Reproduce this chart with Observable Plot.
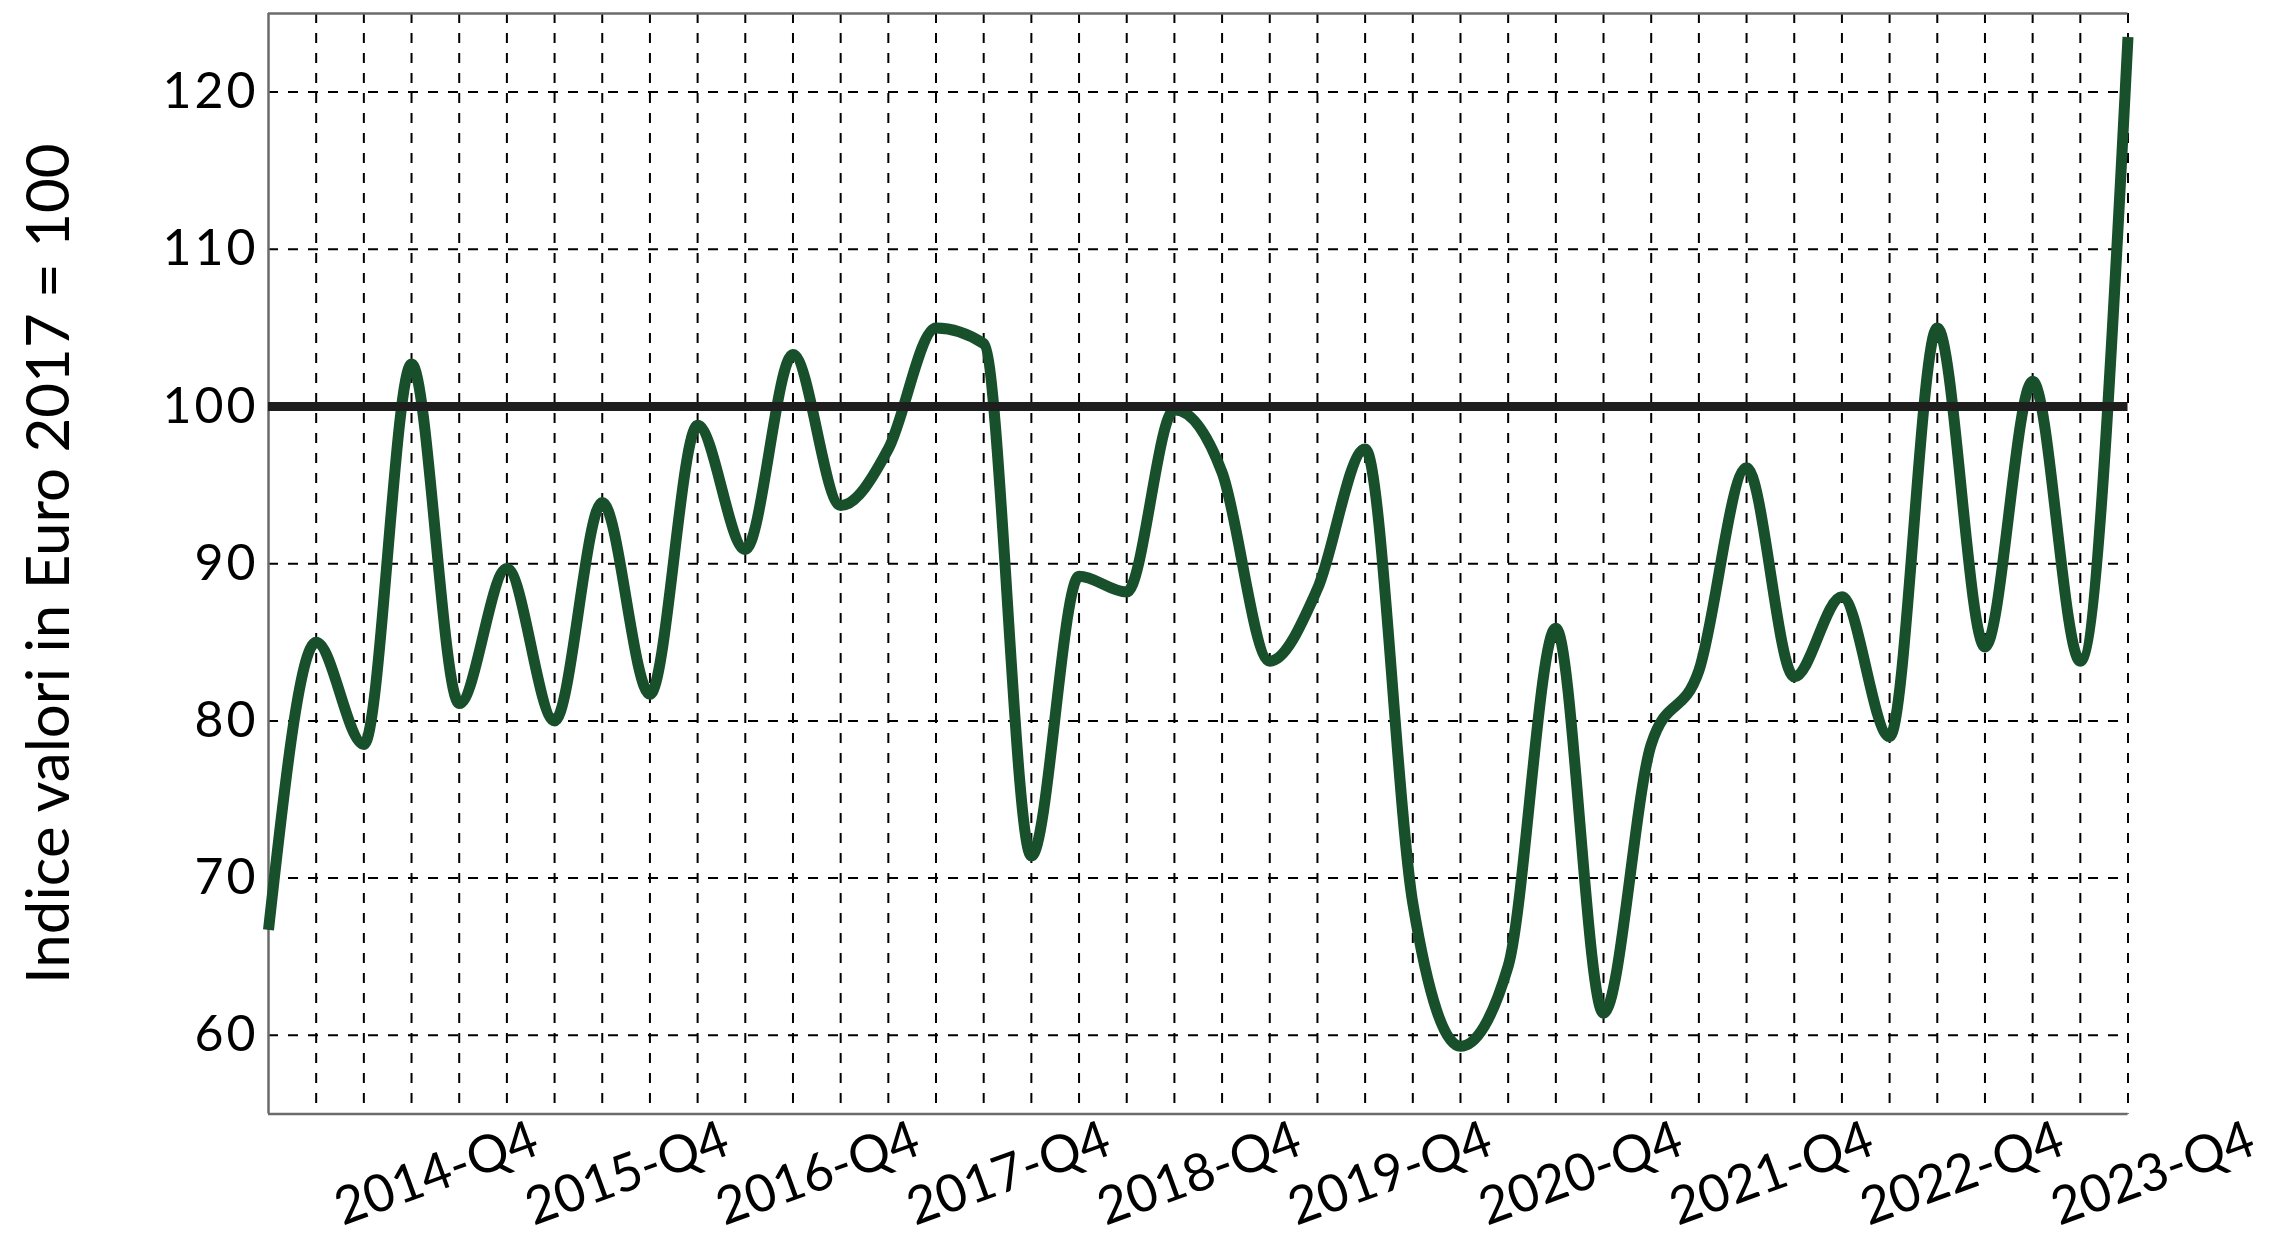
<!DOCTYPE html>
<html>
<head>
<meta charset="utf-8">
<script src="https://cdn.jsdelivr.net/npm/d3@7"></script>
<script src="https://cdn.jsdelivr.net/npm/@observablehq/plot@0.6"></script>
<style>
html, body { margin: 0; padding: 0; background: #fff; overflow: hidden; }
#chart svg { display: block; }
g[aria-label="y-axis tick label"] text { letter-spacing: 3px; }
g[aria-label="x labels"] text { letter-spacing: 4px; }
</style>
</head>
<body>
<div id="chart"></div>
<script>
const quarters = [
  "2014-Q1","2014-Q2","2014-Q3","2014-Q4",
  "2015-Q1","2015-Q2","2015-Q3","2015-Q4",
  "2016-Q1","2016-Q2","2016-Q3","2016-Q4",
  "2017-Q1","2017-Q2","2017-Q3","2017-Q4",
  "2018-Q1","2018-Q2","2018-Q3","2018-Q4",
  "2019-Q1","2019-Q2","2019-Q3","2019-Q4",
  "2020-Q1","2020-Q2","2020-Q3","2020-Q4",
  "2021-Q1","2021-Q2","2021-Q3","2021-Q4",
  "2022-Q1","2022-Q2","2022-Q3","2022-Q4",
  "2023-Q1","2023-Q2","2023-Q3","2023-Q4"
];
const values = [
  66.7, 85.0, 78.5, 102.7,
  81.1, 89.7, 80.0, 93.9,
  81.7, 98.8, 90.9, 103.3,
  93.7, 97.3, 105.0, 104.0,
  71.4, 89.2, 88.2, 99.8,
  95.8, 83.8, 88.4, 97.3,
  68.4, 59.3, 64.4, 85.9,
  61.4, 78.5, 83.2, 96.1,
  82.8, 87.9, 79.0, 105.0,
  84.7, 101.6, 83.8, 123.5
];
const xTickLabels = ["2014-Q4","2015-Q4","2016-Q4","2017-Q4","2018-Q4","2019-Q4","2020-Q4","2021-Q4","2022-Q4","2023-Q4"];
const yTicks = [60, 70, 80, 90, 100, 110, 120];
const yDomain = [55, 125];
const baseline = [100];
const yLabel = ["Indice valori in Euro 2017 = 100"];

const data = quarters.map((q, i) => ({q, v: values[i]}));

const chart = Plot.plot({
  width: 2281,
  height: 1239,
  marginLeft: 268,
  marginRight: 153.5,
  marginTop: 13,
  marginBottom: 125.6,
  style: {fontFamily: "Lato, sans-serif", fontSize: "50px", color: "#000", background: "#fff", overflow: "visible"},
  x: {type: "point", domain: quarters, padding: 0, round: false, axis: null},
  y: {domain: yDomain},
  marks: [
    Plot.ruleX(quarters.slice(1), {stroke: "#000", strokeWidth: 2, strokeDasharray: "10,10"}),
    Plot.ruleY(yTicks, {stroke: "#000", strokeWidth: 2, strokeDasharray: "10,10"}),
    Plot.ruleX([quarters[0]], {stroke: "#6b6b6b", strokeWidth: 2.5}),
    Plot.ruleY(yDomain, {stroke: "#6b6b6b", strokeWidth: 2.5}),
    Plot.line(data, {x: "q", y: "v", stroke: "#17502b", strokeWidth: 11, curve: "monotone-x", strokeLinecap: "butt"}),
    Plot.ruleY(baseline, {stroke: "#1e1e1e", strokeWidth: 9}),
    Plot.axisY(yTicks, {tickSize: 0, tickPadding: 10, fontSize: 50, label: null}),
    Plot.text(xTickLabels, {x: d => d, frameAnchor: "bottom", dy: 60, dx: 25, rotate: -20, textAnchor: "middle", lineAnchor: "middle", fontSize: 52, ariaLabel: "x labels"}),
    Plot.text(yLabel, {frameAnchor: "left", dx: -219, rotate: -90, textAnchor: "middle", lineAnchor: "middle", fontSize: 60})
  ]
});
document.getElementById("chart").appendChild(chart);
</script>
</body>
</html>
